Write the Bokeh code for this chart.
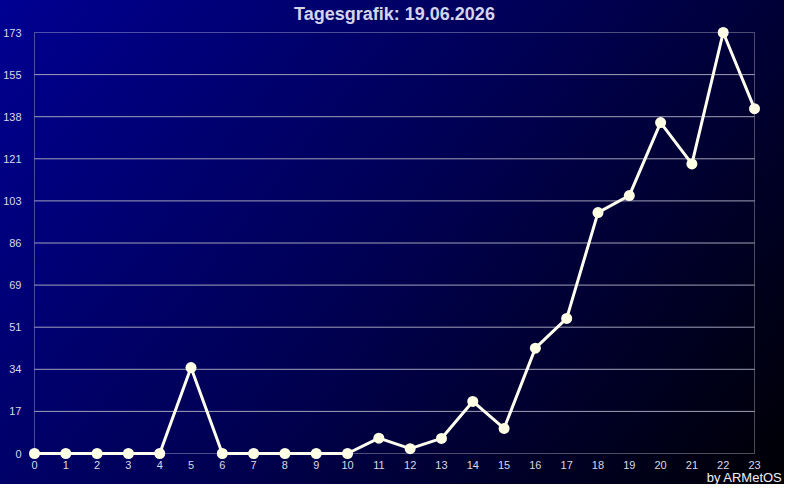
from bokeh.plotting import figure
from bokeh.models import Range1d, FixedTicker, Title, BoxAnnotation, ColumnDataSource
from bokeh.embed import file_html
from bokeh.resources import INLINE

# ---- data ----
hours = list(range(24))
values = [0, 0, 0, 0, 0, 35.3, 0, 0, 0, 0, 0, 6.3, 2, 6.2, 21.4, 10.3,
          43.3, 55.5, 99, 106, 136, 119, 173, 141.7]
y_tick_values = [0, 17.3, 34.6, 51.9, 69.2, 86.5, 103.8, 121.1, 138.4, 155.7, 173]
y_tick_labels = ["0", "17", "34", "51", "69", "86", "103", "121", "138", "155", "173"]
x_tick_labels = [str(h) for h in hours]
title_text = "Tagesgrafik: 19.06.2026"
credit_text = "by ARMetOS"

X_MIN, X_MAX = 0, 23
Y_MIN, Y_MAX = 0, 173
xpad = 7 * (X_MAX - X_MIN) / 722.0
ypad = 7 * (Y_MAX - Y_MIN) / 421.0

p = figure(width=784, height=484, output_backend="svg", toolbar_location=None,
           x_range=Range1d(X_MIN - xpad, X_MAX + xpad),
           y_range=Range1d(Y_MIN - ypad, Y_MAX + ypad),
           min_border_left=25, min_border_right=23,
           min_border_top=25, min_border_bottom=24)
p.styles = {"background": "linear-gradient(128deg, #000092 0%, #000052 50%, #000004 100%)"}
p.border_fill_color = None
p.background_fill_color = None
p.outline_line_color = None
p.xgrid.grid_line_color = None
p.ygrid.grid_line_color = None

# title
p.title.text = title_text
p.title.align = "center"
p.title.vertical_align = "top"
p.title.text_font = "Liberation Sans"
p.title.text_font_style = "bold"
p.title.text_font_size = "18px"
p.title.text_color = "#d4d4ea"
p.title.standoff = 0

# grid lines (horizontal), limited to box
grid_src = ColumnDataSource(dict(y=y_tick_values[1:-1],
                                 x0=[X_MIN] * (len(y_tick_values) - 2),
                                 x1=[X_MAX] * (len(y_tick_values) - 2)))
p.segment(x0="x0", y0="y", x1="x1", y1="y", source=grid_src,
          line_color="#a0a0b8", line_width=1)

# frame box
p.add_layout(BoxAnnotation(left=X_MIN, right=X_MAX, bottom=Y_MIN, top=Y_MAX,
                           fill_color=None, line_color="white", line_width=1))

# axes
for ax in (p.xaxis[0], p.yaxis[0]):
    ax.axis_line_color = None
    ax.major_tick_line_color = None
    ax.minor_tick_line_color = None
    ax.major_tick_out = 0
    ax.major_tick_in = 0
    ax.major_label_text_color = "#d8d8e8"
    ax.major_label_text_font = "Liberation Sans"
    ax.major_label_text_font_size = "11px"

p.xaxis.ticker = FixedTicker(ticks=hours)
p.xaxis.major_label_overrides = {h: lab for h, lab in zip(hours, x_tick_labels)}
p.xaxis.major_label_standoff = 0
p.yaxis.ticker = FixedTicker(ticks=y_tick_values)
p.yaxis.major_label_overrides = {v: lab for v, lab in zip(y_tick_values, y_tick_labels)}
p.yaxis.major_label_standoff = 6

# data line and markers
src = ColumnDataSource(dict(x=hours, y=values))
p.line("x", "y", source=src, line_color="#fffff0", line_width=3)
p.scatter("x", "y", source=src, size=11, fill_color="#ffffe6", line_color=None)

# credit below
credit = Title(text=credit_text, align="right", text_font="Liberation Sans",
               text_font_style="normal", text_font_size="13px",
               text_color="#f0f0f8", standoff=-8, offset=-21)
p.add_layout(credit, "below")

open("out.html", "w").write(file_html(p, INLINE))
